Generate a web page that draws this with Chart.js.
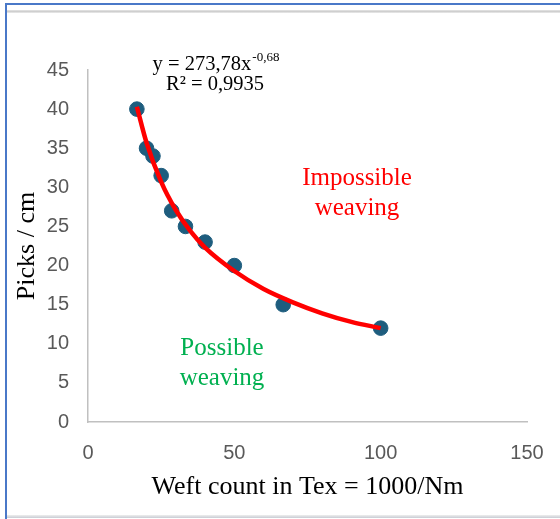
<!DOCTYPE html>
<html>
<head>
<meta charset="utf-8">
<script src="https://cdn.jsdelivr.net/npm/chart.js@4/dist/chart.umd.min.js"></script>
<style>
  html, body { margin: 0; padding: 0; background: #ffffff; }
  #wrap { position: relative; width: 560px; height: 519px; overflow: hidden; background: #fff; }
  #c { position: absolute; left: 0; top: 0; }
  .fr { position: absolute; }
</style>
</head>
<body>
<div id="wrap">
  <canvas id="c" width="560" height="519"></canvas>
  <div class="fr" style="left:5px;top:3px;width:555px;height:2px;background:#4a78c8;"></div>
  <div class="fr" style="left:7px;top:10px;width:553px;height:3px;background:linear-gradient(#e6e6e6,#cfcfcf,#ececec);"></div>
  <div class="fr" style="left:5px;top:3px;width:2px;height:516px;background:#4a78c8;"></div>
  <div class="fr" style="left:7px;top:515px;width:553px;height:3px;background:linear-gradient(#eeeeee,#c8ccd4);"></div>
</div>
<script>
// Measured points (weft count in tex, picks / cm)
const weftTex = [16.7, 20, 22.2, 25, 28.6, 33.3, 40, 50, 66.7, 100];
const picksCm = [40, 35, 34, 31.5, 27, 25, 23, 20, 15, 12];

// Power trendline
const trendX = [16.7, 20, 25, 30, 35, 40, 50, 60, 70, 80, 90, 100];
const trendY = [40.3, 35.7, 30.7, 27.1, 24.4, 22.3, 19.3, 17.0, 15.3, 13.9, 12.8, 12.0];

const xTicks = [0, 50, 100, 150];
const yTicks = [0, 5, 10, 15, 20, 25, 30, 35, 40, 45];

const equationText = "y = 273,78x";
const equationExp = "-0,68";
const r2Text = "R\u00B2 = 0,9935";
const zoneHigh = ["Impossible", "weaving"];
const zoneLow = ["Possible", "weaving"];

const serif = "'Liberation Serif', 'Times New Roman', serif";
const sans = "'Liberation Sans', Arial, sans-serif";

const textPlugin = {
  id: 'labels',
  afterDraw(chart) {
    const ctx = chart.ctx;
    ctx.save();
    ctx.textBaseline = 'middle';
    // equation
    ctx.fillStyle = '#000000';
    ctx.font = "20.5px " + serif;
    const w1 = ctx.measureText(equationText).width;
    ctx.font = "13px " + serif;
    const w2 = ctx.measureText(equationExp).width;
    const cx = 216, total = w1 + w2 + 1;
    let sx = cx - total / 2;
    ctx.textAlign = 'left';
    ctx.font = "20.5px " + serif;
    ctx.fillText(equationText, sx, 65);
    ctx.font = "13px " + serif;
    ctx.fillText(equationExp, sx + w1 + 1, 58);
    ctx.textAlign = 'center';
    ctx.font = "20.5px " + serif;
    ctx.fillText(r2Text, 215, 85);
    // zones
    ctx.font = "25px " + serif;
    ctx.fillStyle = '#ff0000';
    ctx.fillText(zoneHigh[0], 357, 178);
    ctx.fillText(zoneHigh[1], 357, 208);
    ctx.fillStyle = '#00b050';
    ctx.fillText(zoneLow[0], 222, 348);
    ctx.fillText(zoneLow[1], 222, 378);
    ctx.restore();
  }
};

new Chart(document.getElementById('c'), {
  type: 'scatter',
  data: {
    datasets: [
      {
        type: 'line',
        label: 'Trend',
        data: trendX.map((x, i) => ({ x: x, y: trendY[i] })),
        borderColor: '#ff0000',
        borderWidth: 4.5,
        pointRadius: 0,
        fill: false,
        cubicInterpolationMode: 'monotone',
        order: 0
      },
      {
        label: 'Picks',
        data: weftTex.map((x, i) => ({ x: x, y: picksCm[i] })),
        backgroundColor: '#1e5d7e',
        borderColor: '#1e5d7e',
        pointRadius: 7.3,
        pointHoverRadius: 7.3,
        order: 1
      }
    ]
  },
  options: {
    responsive: false,
    animation: false,
    events: [],
    layout: { padding: { left: 0, right: 33, top: 70, bottom: 0 } },
    plugins: { legend: { display: false }, tooltip: { enabled: false } },
    scales: {
      x: {
        type: 'linear',
        min: 0, max: 150,
        afterFit(s) { s.height = 97; s.paddingRight = 0; s.paddingLeft = 0; },
        afterBuildTicks(s) { s.ticks = xTicks.map(v => ({ value: v })); },
        grid: { display: false, drawTicks: false },
        border: { display: true, color: '#c0c0c0', width: 1.5 },
        ticks: { color: '#595959', font: { family: sans, size: 20 }, padding: 19, maxRotation: 0 },
        title: { display: true, text: 'Weft count in Tex = 1000/Nm', color: '#000000',
                 font: { family: serif, size: 26 }, padding: { top: 0, bottom: 16 } }
      },
      y: {
        type: 'linear',
        min: 0, max: 45,
        afterFit(s) { s.width = 88; s.paddingTop = 0; s.paddingBottom = 0; },
        afterBuildTicks(s) { s.ticks = yTicks.map(v => ({ value: v })); },
        grid: { display: false, drawTicks: false },
        border: { display: true, color: '#c0c0c0', width: 1.5 },
        ticks: { color: '#595959', font: { family: sans, size: 20 }, padding: 19 },
        title: { display: true, text: 'Picks / cm', color: '#000000',
                 font: { family: serif, size: 26 }, padding: { top: 12, bottom: 0 } }
      }
    }
  },
  plugins: [textPlugin]
});
</script>
</body>
</html>
